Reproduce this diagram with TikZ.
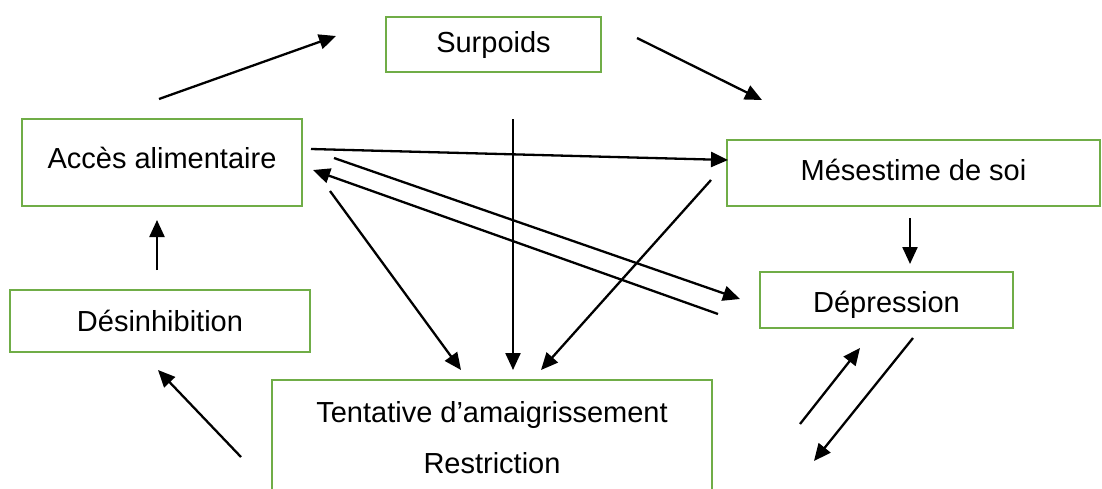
\documentclass[tikz,border=0pt]{standalone}
\usepackage{fontspec}
\setmainfont{Liberation Sans}
\usetikzlibrary{arrows.meta}
\definecolor{boxgreen}{RGB}{112,173,71}
\begin{document}
\begin{tikzpicture}[x=1pt,y=-1pt,
  box/.style={draw=boxgreen, line width=2.5pt, rectangle, inner sep=0pt, font=\fontsize{29}{35}\selectfont},
  arr/.style={line width=2.3pt, -{Triangle[length=17pt,width=15pt]}}]
\useasboundingbox (0,0) rectangle (1102,488);
\clip (0,0) rectangle (1102,488);
\fill[white] (0,0) rectangle (1102,488);
% boxes
\node[box, minimum width=215pt, minimum height=55pt] (surp) at (493.5,44.5) {Surpoids};
\node[box, minimum width=280pt, minimum height=87pt, text depth=10pt] (acces) at (162,162.5) {Accès alimentaire};
\node[box, minimum width=373pt, minimum height=66pt, text depth=6pt] (mes) at (913.5,173) {Mésestime de soi};
\node[box, minimum width=253pt, minimum height=56pt, text height=31pt] (dep) at (886.5,300) {Dépression};
\node[box, minimum width=300pt, minimum height=62pt] (des) at (160,321) {Désinhibition};
\node[box, minimum width=440pt, minimum height=116pt, align=center, font=\fontsize{29}{51}\selectfont] (tent) at (492,438) {Tentative d’amaigrissement\\Restriction};
% arrow end points
\coordinate (a1s) at (159,99);  \coordinate (a1e) at (336,36);
\coordinate (a2s) at (637,38);  \coordinate (a2e) at (762,100);
\coordinate (a3s) at (513,119); \coordinate (a3e) at (513,370);
\coordinate (a4s) at (311,149); \coordinate (a4e) at (728,160);
\coordinate (a5s) at (711,180); \coordinate (a5e) at (541,370);
\coordinate (a6s) at (334,158); \coordinate (a6e) at (740,299);
\coordinate (a7s) at (718,314); \coordinate (a7e) at (313,170);
\coordinate (a8s) at (330,191); \coordinate (a8e) at (461,370);
\coordinate (a9s) at (910,218); \coordinate (a9e) at (910,264);
\coordinate (a10s) at (157,270); \coordinate (a10e) at (157,220);
\coordinate (a11s) at (241,457); \coordinate (a11e) at (158,370);
\coordinate (a12s) at (800,424); \coordinate (a12e) at (860,348);
\coordinate (a13s) at (913,338); \coordinate (a13e) at (814,461);
% connectors
\draw[arr] (a1s) -- (a1e);
\draw[arr] (a2s) -- (a2e);
\draw[arr] (a3s) -- (a3e);
\draw[arr] (a4s) -- (a4e);
\draw[arr] (a5s) -- (a5e);
\draw[arr] (a6s) -- (a6e);
\draw[arr] (a7s) -- (a7e);
\draw[arr] (a8s) -- (a8e);
\draw[arr] (a9s) -- (a9e);
\draw[arr] (a10s) -- (a10e);
\draw[arr] (a11s) -- (a11e);
\draw[arr] (a12s) -- (a12e);
\draw[arr] (a13s) -- (a13e);
\end{tikzpicture}
\end{document}
